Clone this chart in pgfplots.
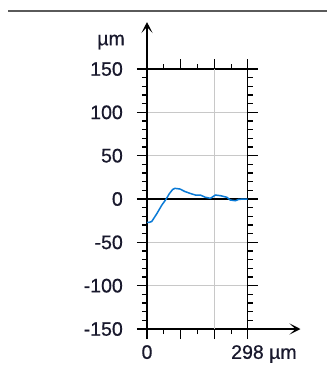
\documentclass[border=0pt]{standalone}
\usepackage{pgfplots}
\pgfplotsset{compat=1.18}
\usepackage{fontspec}
\setmainfont{Liberation Sans}[FakeBold=0.7]
\usetikzlibrary{arrows.meta}
\definecolor{curve}{RGB}{10,122,214}
\definecolor{gridc}{RGB}{200,200,200}
\definecolor{topline}{RGB}{90,90,90}
\definecolor{txt}{RGB}{25,25,45}
\begin{document}
\fontsize{19.5pt}{22pt}\selectfont
\begin{tikzpicture}[x=1pt,y=1pt]
\useasboundingbox (0,0) rectangle (327,365);
\draw[line width=2.5pt, topline] (8,354) -- (327,354);
\node[anchor=east, inner sep=0pt, text=txt] at (125,323) {µm};
\begin{axis}[
  at={(147pt,36pt)}, anchor=south west,
  scale only axis, width=100.5pt, height=260pt,
  xmin=0, xmax=298, ymin=-150, ymax=150,
  axis line style={black, line width=1.2pt},
  xtick={0,100,200,298},
  xticklabels={0,,,{298\rlap{ µm}}},
  minor xtick={50,150,250},
  ytick={-150,-100,-50,0,50,100,150},
  yticklabels={-150,-100,-50,0,50,100,150},
  minor y tick num=4,
  tick align=outside,
  major tick length=10pt, minor tick length=5pt,
  tick style={black, line width=1.2pt},
  xtick pos=both, ytick pos=both,
  xticklabel pos=lower, yticklabel pos=left,
  ticklabel style={text=txt},
  yticklabel style={anchor=east, inner sep=0pt, xshift=-14pt},
  xticklabel style={anchor=north, inner sep=0pt, yshift=-6pt},
  ymajorgrids, grid style={gridc, line width=1pt},
  clip=false,
]
\draw[gridc, line width=1pt] (axis cs:200,-150) -- (axis cs:200,150);
\draw[black, line width=1.2pt] (axis cs:0,0) -- (axis cs:298,0);
\draw[black, line width=1.2pt, -{Stealth[length=11pt, width=11pt, inset=6pt]}] (axis cs:0,150) -- ([yshift=47pt]axis cs:0,150);
\draw[black, line width=1.2pt, -{Stealth[length=11pt, width=11pt, inset=6pt]}] (axis cs:298,-150) -- ([xshift=53pt]axis cs:298,-150);
\addplot[curve, line width=1.5pt] coordinates {
(0,-27) (6,-27) (14,-26) (29,-17) (44,-7) (57,0) (66,6) (76,11) (83,12.3) (98,11.5) (113,8.5) (128,6.5) (143,4.6) (158,4.6) (173,2) (188,0.8) (203,4.6) (218,3.8) (237,2) (247,-1.2) (262,-2) (272,-0.4) (292,0) (298,0)
};
\end{axis}
\end{tikzpicture}
\end{document}
